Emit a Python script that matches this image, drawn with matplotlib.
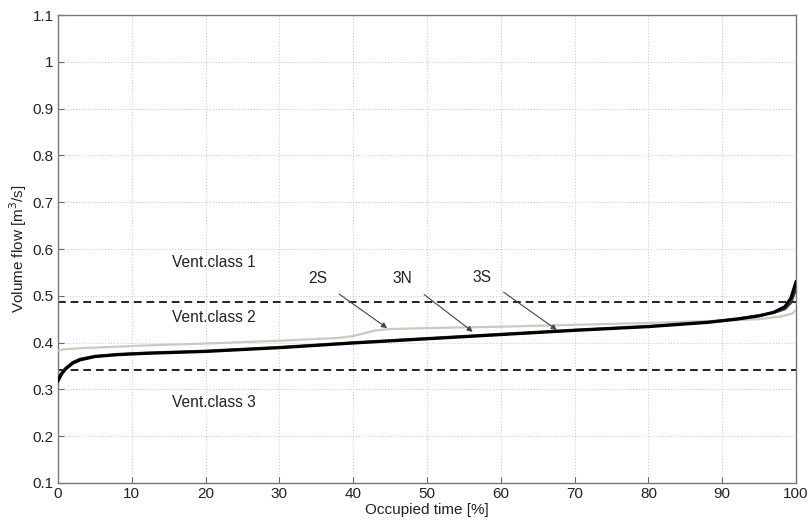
import matplotlib.pyplot as plt
from matplotlib.ticker import MultipleLocator

plt.rcParams['font.family'] = ['Liberation Sans', 'DejaVu Sans']

# duration curves, occupied time [%] vs volume flow [m3/s]
time_2s = [0, 1, 3, 6, 12, 20, 30, 38, 40, 41.5, 43, 45, 50, 60, 70, 80, 90, 95, 98, 99.5, 100]
flow_2s = [0.383, 0.386, 0.388, 0.390, 0.394, 0.398, 0.404, 0.410, 0.414, 0.420, 0.426, 0.429,
           0.431, 0.434, 0.438, 0.442, 0.447, 0.450, 0.456, 0.462, 0.470]

time_3n = [0, 0.5, 1, 2, 3, 5, 8, 12, 20, 30, 40, 50, 60, 70, 80, 88, 92, 95, 97, 98.5, 99.3, 100]
flow_3n = [0.318, 0.333, 0.343, 0.356, 0.363, 0.370, 0.374, 0.377, 0.381, 0.389, 0.399, 0.408,
           0.417, 0.426, 0.434, 0.443, 0.450, 0.457, 0.465, 0.477, 0.495, 0.530]

time_3s = [0, 1, 2, 3, 5, 8, 12, 20, 30, 40, 50, 60, 70, 80, 88, 92, 95, 97, 98.5, 99.3, 100]
flow_3s = [0.325, 0.345, 0.358, 0.365, 0.371, 0.375, 0.378, 0.382, 0.390, 0.400, 0.409,
           0.418, 0.427, 0.435, 0.444, 0.451, 0.458, 0.464, 0.472, 0.485, 0.515]

class_limits = [0.487, 0.341]
class_labels = ['Vent.class 1', 'Vent.class 2', 'Vent.class 3']
class_label_y = [0.572, 0.453, 0.271]

# series label, text position, arrow tip
series_labels = ['2S', '3N', '3S']
label_pos = [(35.2, 0.536), (46.7, 0.538), (57.5, 0.540)]
arrow_tip = [(44.6, 0.431), (56.2, 0.423), (67.6, 0.427)]

fig = plt.figure(figsize=(8.11, 5.25), dpi=100)
ax = fig.add_axes([0.0715, 0.08, 0.91, 0.8914])

ax.plot(time_2s, flow_2s, color='#cfc9bd', linewidth=1.6, zorder=3)
ax.plot(time_3s, flow_3s, color='#3a3a3a', linewidth=2.0, zorder=4)
ax.plot(time_3n, flow_3n, color='black', linewidth=2.2, zorder=5)

for lim in class_limits:
    ax.axhline(lim, color='#222222', linestyle=(0, (4, 2.5)), linewidth=1.4, zorder=2)

for lab, yy in zip(class_labels, class_label_y):
    ax.text(15.4, yy, lab, fontsize=11.2, color='#222222', va='center', ha='left')

for lab, pos, tip in zip(series_labels, label_pos, arrow_tip):
    ax.annotate(lab, xy=tip, xytext=pos, fontsize=11.2, color='#222222',
                ha='center', va='center',
                arrowprops=dict(arrowstyle='-|>', color='#444444', linewidth=0.8,
                                mutation_scale=8, shrinkA=8, shrinkB=0))

ax.set_xlim(0, 100)
ax.set_ylim(0.1, 1.1)
ax.xaxis.set_major_locator(MultipleLocator(10))
yt = [0.1 * i for i in range(1, 12)]
ax.set_yticks(yt)
ax.set_yticklabels(['%g' % round(v, 1) for v in yt])

ax.grid(True, which='major', color='#c4c4c4', linestyle=(0, (1, 2)), linewidth=0.7)
ax.tick_params(direction='in', length=4, color='#666666', labelsize=11, labelcolor='#222222', pad=3)
for s in ax.spines.values():
    s.set_color('#777777')
    s.set_linewidth(1.0)

ax.set_xlabel('Occupied time [%]', fontsize=11, color='#222222', labelpad=1)
ax.set_ylabel('Volume flow [m$^3$/s]', fontsize=11, color='#222222', labelpad=3)

fig.savefig('out.png', dpi=100)
